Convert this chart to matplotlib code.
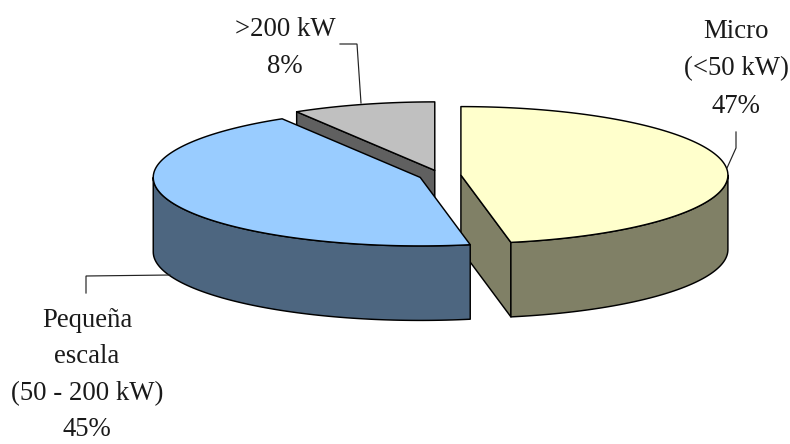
import numpy as np
import matplotlib
matplotlib.use("Agg")
import matplotlib.pyplot as plt

# Installed capacity shares, clockwise from twelve o'clock
categories = ["Micro", "Pequeña escala", ">200 kW"]
shares = [47, 45, 8]
label_lines = [
    ["Micro", "(<50 kW)", "47%"],
    ["Pequeña", "escala", "(50 - 200 kW)", "45%"],
    [">200 kW", "8%"],
]

top_colors = ["#FFFFCC", "#99CCFF", "#C0C0C0"]
wall_colors = ["#808066", "#4D6680", "#606060"]

# Projection of the exploded disc, in pixels
CX, CY = 440.0, 175.6
RX, RY = 267.0, 68.5
DEPTH = 74.5
EXPLODE = 21.0
WARP = 2.6
EDGE = dict(edgecolor="black", linewidth=1.05, joinstyle="round")

fig = plt.figure(figsize=(7.9, 4.44), dpi=100)
ax = fig.add_axes([0, 0, 1, 1])
ax.set_xlim(0, 790)
ax.set_ylim(444, 0)
ax.axis("off")
plt.rcParams["font.family"] = ["Liberation Serif", "DejaVu Serif"]


def screen_angle(deg):
    """Slight widening of the far side of the disc under perspective."""
    t = np.radians(deg)
    return deg + WARP * np.sin(t) * (1 + np.cos(t))


def rim(cx, cy, deg):
    t = np.radians(deg)
    return cx + RX * np.sin(t), cy - RY * np.cos(t)


edges = np.concatenate([[0], np.cumsum(shares)]) * 3.6
slices = []
for i in range(len(shares)):
    mid = np.radians((edges[i] + edges[i + 1]) / 2)
    cx = CX + EXPLODE * np.sin(mid)
    cy = CY - EXPLODE * np.cos(mid) * RY / RX
    slices.append((i, cx, cy, screen_angle(edges[i]), screen_angle(edges[i + 1])))

# Back slice first so the nearer slices cover it
for z, (i, cx, cy, a0, a1) in enumerate((slices[2], slices[0], slices[1]), start=1):
    # Cut face on the side of the slice that looks towards the viewer
    face_angle = a1 if i == 0 else a0
    if i != 1:
        fx, fy = rim(cx, cy, face_angle)
        ax.fill([cx, fx, fx, cx], [cy, fy, fy + DEPTH, cy + DEPTH],
                facecolor=wall_colors[i], zorder=z, **EDGE)
    # Outer wall: only the front half of the rim is visible
    lo, hi = max(a0, 90), min(a1, 270)
    if hi > lo:
        th = np.linspace(lo, hi, 80)
        x, y = rim(cx, cy, th)
        ax.fill(np.r_[x, x[::-1]], np.r_[y, y[::-1] + DEPTH],
                facecolor=wall_colors[i], zorder=z, **EDGE)
    # Top surface
    th = np.linspace(a0, a1, 160)
    x, y = rim(cx, cy, th)
    ax.fill(np.r_[cx, x], np.r_[cy, y], facecolor=top_colors[i], zorder=z, **EDGE)

# Leader lines
leaders = [
    ([736, 736, 727], [132, 148, 168]),
    ([86, 86, 170], [293, 276, 275]),
    ([340, 357, 361], [44, 44, 103]),
]
for lx, ly in leaders:
    ax.plot(lx, ly, color="#222222", lw=0.85, zorder=5, solid_joinstyle="miter")

# Stacked data labels; the lower block is tightened to stay inside the figure
anchors = [(736, 31, 37.8), (87, 320, 36.6), (285, 29, 37.8)]
for lines, (tx, ty, step) in zip(label_lines, anchors):
    for n, line in enumerate(lines):
        ax.text(tx, ty + n * step, line, ha="center", va="center",
                fontsize=19.3, color="#1a1a1a", zorder=6)

fig.savefig("out.png", dpi=100, facecolor="white")
